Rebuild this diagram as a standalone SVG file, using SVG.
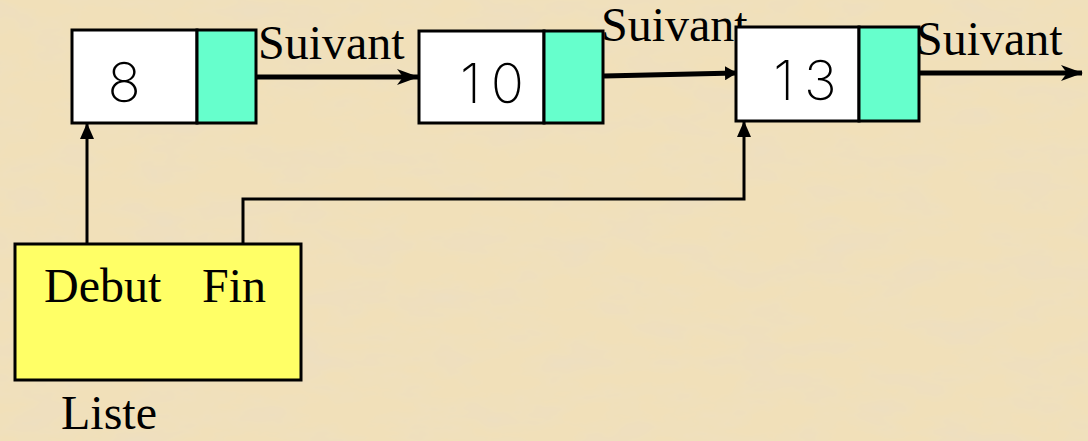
<svg xmlns="http://www.w3.org/2000/svg" width="1088" height="441" viewBox="0 0 1088 441">
  <defs>
    <filter id="paper" x="0" y="0" width="100%" height="100%">
      <feTurbulence type="fractalNoise" baseFrequency="0.015 0.035" numOctaves="4" seed="7" result="n"/>
      <feColorMatrix in="n" type="matrix" values="0 0 0 0 0.85  0 0 0 0 0.74  0 0 0 0 0.54  0 0 0 -1.6 1.0" result="c"/>
      <feComposite in="c" in2="SourceGraphic" operator="over"/>
    </filter>
    <marker id="stealth" viewBox="0 0 22 16" refX="21" refY="8" markerWidth="22" markerHeight="16" markerUnits="userSpaceOnUse" orient="auto">
      <path d="M0,0 L22,8 L0,16 L6,8 Z" fill="#000"/>
    </marker>
    <marker id="tri" viewBox="0 0 12 14" refX="11" refY="7" markerWidth="12" markerHeight="14" markerUnits="userSpaceOnUse" orient="auto">
      <path d="M0,0 L12,7 L0,14 Z" fill="#000"/>
    </marker>
    <marker id="triUp" viewBox="0 0 16 16" refX="15" refY="8" markerWidth="16" markerHeight="16" markerUnits="userSpaceOnUse" orient="auto">
      <path d="M0,1 L16,8 L0,15 Z" fill="#000"/>
    </marker>
  </defs>
  <style>
    .cell { fill: #ffffff; stroke: #000; stroke-width: 3; }
    .ptr { fill: #66ffcc; stroke: #000; stroke-width: 3; }
    .num { font-family: Inter, "Liberation Mono", monospace; font-weight: 200; font-size: 55px; letter-spacing: 10px; fill: #000; text-anchor: middle; }
    .lbl { font-family: "Liberation Serif", "Times New Roman", serif; font-size: 48px; fill: #000; }
    .link { stroke: #000; stroke-width: 5; fill: none; }
    .ref { stroke: #000; stroke-width: 3; fill: none; }
    .list { fill: #ffff66; stroke: #000; stroke-width: 3; }
  </style>
  <rect x="0" y="0" width="1088" height="441" fill="#f1e0b9" filter="url(#paper)"/>

  <g id="connectors">
    <line class="link" x1="256" y1="77" x2="418" y2="77" marker-end="url(#stealth)"/>
    <line class="link" x1="604" y1="76" x2="736" y2="73" marker-end="url(#tri)"/>
    <line class="link" x1="920" y1="73" x2="1082" y2="73" marker-end="url(#stealth)"/>
    <line class="ref" x1="87" y1="244" x2="87" y2="124" marker-end="url(#triUp)"/>
    <polyline class="ref" points="243,244 243,199 744,199 744,122" marker-end="url(#triUp)"/>
    <text class="lbl" x="258" y="59">Suivant</text>
    <text class="lbl" x="601" y="41">Suivant</text>
    <text class="lbl" x="916" y="55">Suivant</text>
  </g>

  <g id="node-8">
    <rect class="cell" x="72" y="30" width="125" height="93"/>
    <rect class="ptr" x="197" y="30" width="59" height="93"/>
    <text class="num" x="129" y="102">8</text>
  </g>

  <g id="node-10">
    <rect class="cell" x="419" y="31" width="125" height="92"/>
    <rect class="ptr" x="544" y="31" width="59" height="92"/>
    <text class="num" x="497" y="103">10</text>
  </g>

  <g id="node-13">
    <rect class="cell" x="736" y="27" width="123" height="94"/>
    <rect class="ptr" x="859" y="27" width="60" height="94"/>
    <text class="num" x="810" y="100">13</text>
  </g>

  <g id="liste">
    <rect class="list" x="15" y="244" width="286" height="136"/>
    <text class="lbl" x="44" y="302">Debut</text>
    <text class="lbl" x="202" y="302">Fin</text>
    <text class="lbl" x="61" y="429">Liste</text>
  </g>
</svg>
